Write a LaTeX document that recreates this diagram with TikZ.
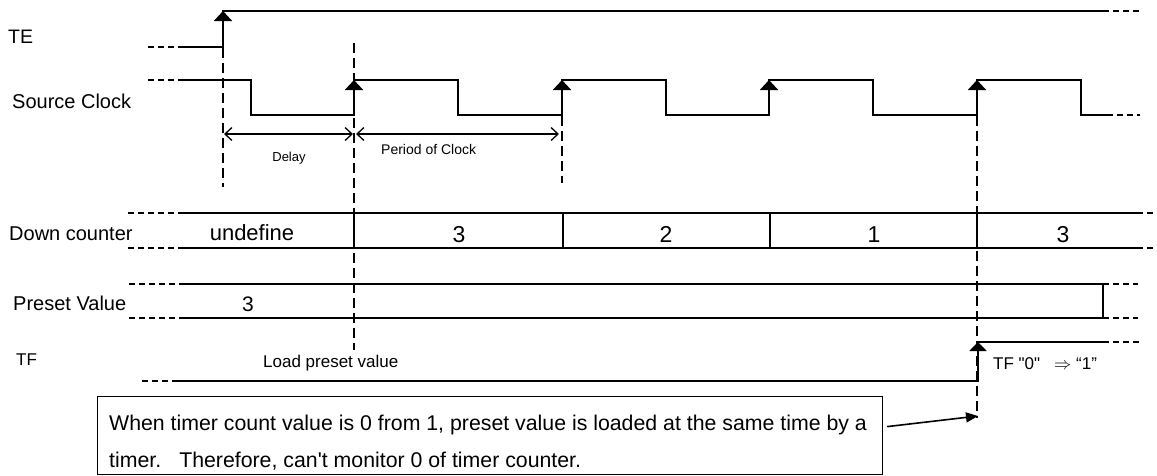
\documentclass[tikz,border=0pt]{standalone}
\usepackage{fontspec}
\setmainfont{Liberation Sans}[Ligatures=TeXOff]
\usetikzlibrary{arrows.meta}
\newcommand{\fs}[1]{\fontsize{#1}{#1}\selectfont}
\begin{document}
\begin{tikzpicture}[x=1pt,y=-1pt,
  signal/.style={line width=2pt,line cap=rect},
  sigext/.style={line width=1.3pt,dash pattern=on 6pt off 4pt},
  busline/.style={line width=1.4pt},
  guide/.style={line width=1.1pt,dash pattern=on 10pt off 5pt},
  edgearrow/.style={line width=2pt,-{Triangle[width=18pt,length=10pt]}},
  span/.style={line width=1.3pt,{Straight Barb[length=7pt,width=13pt]}-{Straight Barb[length=7pt,width=13pt]}},
  lbl/.style={inner sep=0pt,anchor=base west},
  val/.style={inner sep=0pt,anchor=base}]
\useasboundingbox (0,0) rectangle (1157,475);

% row labels
\node[lbl,font=\fs{19.5}] (lte) at (8,43) {TE};
\node[lbl,font=\fs{20}] (lclk) at (12,108) {Source Clock};
\node[lbl,font=\fs{20}] (lcnt) at (9,240) {Down counter};
\node[lbl,font=\fs{20}] (lpre) at (13,310) {Preset Value};
\node[lbl,font=\fs{17}] (ltf) at (16,365) {TF};

% guide lines
\draw[guide] (223,48) -- (223,187);
\draw[guide] (354,43) -- (354,350);
\draw[guide] (562,116) -- (562,183);
\draw[guide] (977,116) -- (977,418);

% TE
\draw[sigext] (148,47) -- (180,47);
\draw[signal] (180,47) -- (223,47) -- (223,11) -- (1103,11);
\draw[sigext] (1103,11) -- (1140,11);
\draw[edgearrow] (223,40) -- (223,11);

% source clock
\draw[sigext] (148,80) -- (180,80);
\draw[signal] (180,80) -- (251,80) -- (251,115) -- (354,115) -- (354,80)
  -- (458,80) -- (458,115) -- (562,115) -- (562,80)
  -- (666,80) -- (666,115) -- (769,115) -- (769,80)
  -- (873,80) -- (873,115) -- (977,115) -- (977,80)
  -- (1081,80) -- (1081,115) -- (1107,115);
\draw[sigext] (1107,115) -- (1140,115);
\foreach \x in {354,562,769,977}
  \draw[edgearrow] (\x,108) -- (\x,80);

% delay and period spans
\draw[span] (224,134) -- (353,134);
\draw[span] (356,134) -- (559,134);
\node[val,font=\fs{13}] (tdelay) at (289,161) {Delay};
\node[lbl,font=\fs{14}] (tperiod) at (381,154) {Period of Clock};

% down counter
\draw[sigext] (128,213) -- (180,213);
\draw[sigext] (128,248) -- (180,248);
\draw[busline] (180,213) -- (1137,213);
\draw[busline] (180,248) -- (1137,248);
\draw[sigext] (1137,213) -- (1153,213);
\draw[sigext] (1137,248) -- (1153,248);
\foreach \x in {354,563,770}
  \draw[busline] (\x,213) -- (\x,248);
\draw[line width=2.2pt] (977,213) -- (977,248);
\node[val,font=\fs{22}] (cu) at (252,240) {undefine};
\node[val,font=\fs{23}] (c3) at (459,242) {3};
\node[val,font=\fs{23}] (c2) at (666,242) {2};
\node[val,font=\fs{23}] (c1) at (874,242) {1};
\node[val,font=\fs{23}] (c3b) at (1063,242) {3};

% preset value
\draw[sigext] (129,284) -- (185,284);
\draw[sigext] (129,318) -- (185,318);
\draw[busline] (185,284) -- (1103,284) -- (1103,318) -- (185,318);
\draw[sigext] (1103,284) -- (1138,284);
\draw[sigext] (1103,318) -- (1138,318);
\node[val,font=\fs{21}] (p3) at (248,311) {3};

% TF
\draw[sigext] (142,381) -- (178,381);
\draw[signal] (178,381) -- (978,381) -- (978,342) -- (1103,342);
\draw[sigext] (1103,342) -- (1140,342);
\draw[line width=2pt,-{Triangle[width=17pt,length=9pt]}] (978,360) -- (978,342);
\node[lbl,font=\fs{17}] (tload) at (263,367) {Load preset value};
\node[lbl,font=\fs{17}] (ttf) at (993,369) {TF "0"\hspace{14pt}$\Rightarrow$ “1”};

% note
\node[draw,line width=1.2pt,inner sep=0pt,minimum width=785pt,minimum height=78pt,anchor=north west] (note) at (97,396) {};
\node[lbl,font=\fs{21.3}] (n1) at (109,430) {When timer count value is 0 from 1, preset value is loaded at the same time by a};
\node[lbl,font=\fs{21.3}] (n2) at (109,467) {timer.\hspace{18pt}Therefore, can't monitor 0 of timer counter.};
\coordinate (tgt) at (978,416);
\draw[line width=1.6pt,-{Triangle[width=10pt,length=12pt]}] ([xshift=4pt,yshift=9pt]note.east) -- (tgt);
\end{tikzpicture}
\end{document}
